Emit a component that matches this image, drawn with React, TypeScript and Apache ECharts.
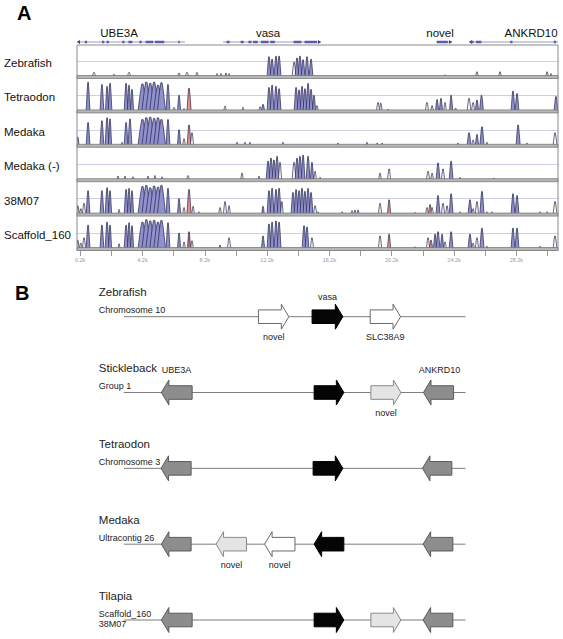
import React, { useEffect, useRef } from "react";
import * as echarts from "echarts";

// ---------- Panel A data ----------
const TRACK_NAMES = ["Zebrafish", "Tetraodon", "Medaka", "Medaka (-)", "38M07", "Scaffold_160"];
// peaks: [centre (kb), half width (kb), conservation (%), kind]  kind: 0 non-coding outline, 1 exon, 2 UTR, 3 teal, 4 dull UTR
const ZEBRAFISH = [
  [1.09, .1, 56, 0], [2.37, .06, 53, 0], [3.34, .1, 56, 0], [6.55, .08, 55, 0], [7.06, .1, 56, 0], [7.7, .08, 56, 0],
  [8.99, .06, 54, 0], [9.24, .06, 54, 0], [9.56, .06, 55, 0], [9.76, .06, 54, 0],
  [12.32, .12, 82, 1], [12.52, .12, 78, 1], [12.77, .12, 83, 1], [12.97, .12, 83, 1],
  [13.93, .12, 73, 0], [14.12, .12, 80, 1], [14.31, .12, 83, 1], [14.51, .12, 77, 1], [14.76, .12, 82, 1], [15.02, .12, 78, 1],
  [23.62, .05, 52, 0], [25.67, .08, 57, 0], [27.15, .08, 57, 0], [30.17, .08, 57, 0], [30.42, .06, 54, 0],
];
const TETRAODON = [
  [0.71, .12, 97, 1], [1.6, .12, 93, 1], [1.93, .1, 90, 1], [2.12, .12, 95, 1], [3.15, .12, 95, 1], [3.34, .1, 92, 1], [3.53, .1, 85, 1],
  [4.2, .28, 94, 1], [4.45, .28, 97, 1], [4.7, .28, 95, 1], [4.95, .28, 97, 1], [5.2, .28, 92, 1], [5.42, .26, 96, 1],
  [5.84, .12, 93, 1], [6.23, .08, 55, 0], [6.55, .1, 75, 1], [6.87, .06, 53, 0], [7.19, .13, 87, 2],
  [9.5, .08, 57, 0], [10.65, .06, 55, 0], [11.75, .08, 56, 0], [11.94, .1, 60, 1],
  [12.32, .12, 88, 1], [12.52, .12, 92, 1], [12.77, .12, 90, 1], [12.97, .12, 86, 1],
  [14.06, .12, 88, 1], [14.25, .12, 84, 1], [14.44, .12, 90, 1], [14.63, .12, 86, 1], [14.83, .12, 95, 1], [15.02, .12, 85, 1], [15.21, .1, 75, 1], [15.4, .08, 58, 0],
  [19.32, .1, 63, 0], [19.5, .08, 62, 0], [19.96, .05, 52, 0],
  [22.46, .1, 63, 0], [22.79, .08, 58, 0], [23.11, .1, 68, 1], [23.36, .1, 70, 1], [23.62, .08, 63, 0], [24.01, .1, 75, 1], [24.3, .06, 54, 0],
  [25.16, .12, 70, 0], [25.42, .1, 63, 0], [25.67, .1, 67, 1], [25.96, .12, 75, 1],
  [27.98, .12, 82, 1], [28.24, .12, 78, 1], [30.74, .12, 73, 1],
];
const MEDAKA = [
  [0.05, .08, 63, 3], [0.71, .12, 87, 1], [1.6, .12, 90, 1], [1.93, .12, 95, 1], [2.12, .1, 93, 1], [2.89, .06, 54, 0], [3.15, .12, 87, 1], [3.4, .12, 93, 1],
  [4.2, .28, 92, 1], [4.45, .28, 95, 1], [4.7, .28, 96, 1], [4.95, .28, 94, 1], [5.2, .28, 95, 1], [5.42, .26, 92, 1],
  [5.84, .12, 92, 1], [6.55, .1, 75, 1], [6.87, .08, 60, 0], [7.19, .12, 83, 2], [7.38, .1, 70, 0],
  [10.27, .06, 54, 0], [10.78, .06, 54, 0], [11.1, .06, 54, 0], [13.22, .06, 54, 0],
  [16.75, .06, 53, 0], [18.61, .06, 54, 0], [19.26, .06, 53, 0], [19.58, .06, 53, 0], [24.45, .06, 53, 0],
  [25.16, .12, 70, 1], [25.42, .08, 58, 0], [25.67, .1, 67, 1], [25.99, .13, 80, 1], [26.31, .06, 54, 0],
  [28.31, .13, 83, 1], [28.88, .06, 53, 0], [30.68, .12, 70, 0],
];
const MEDAKA_REV = [
  [2.63, .06, 55, 0], [3.08, .06, 55, 0], [3.59, .06, 54, 0], [4.56, .06, 55, 0], [5.0, .06, 56, 0], [5.46, .06, 54, 0], [7.12, .08, 56, 0],
  [10.59, .08, 60, 0], [11.68, .06, 55, 0],
  [12.26, .12, 80, 1], [12.45, .12, 85, 1], [12.64, .12, 82, 1], [12.84, .12, 88, 1], [13.03, .1, 78, 0],
  [13.93, .12, 78, 0], [14.12, .12, 85, 1], [14.31, .12, 88, 1], [14.51, .12, 90, 1], [14.83, .12, 88, 1], [15.08, .1, 78, 1], [15.28, .08, 63, 0], [15.6, .05, 53, 0],
  [19.45, .08, 60, 0], [20.03, .1, 67, 0], [22.53, .1, 63, 0], [22.79, .08, 60, 0], [23.17, .12, 77, 1], [23.49, .1, 67, 0], [24.01, .12, 80, 1],
  [24.58, .05, 53, 0], [26.76, .05, 52, 0],
];
const M38M07 = [
  [0.05, .1, 63, 3], [0.25, .08, 58, 0], [0.45, .1, 67, 0], [0.71, .12, 88, 1], [1.6, .12, 88, 1], [1.93, .12, 93, 1], [2.12, .1, 88, 1], [2.7, .06, 57, 0],
  [3.15, .12, 90, 1], [3.34, .1, 92, 1], [3.53, .1, 88, 1],
  [4.2, .28, 95, 1], [4.45, .28, 97, 1], [4.7, .28, 93, 1], [4.95, .28, 96, 1], [5.2, .28, 94, 1], [5.42, .26, 97, 1],
  [5.84, .12, 92, 1], [6.55, .1, 75, 1], [6.87, .08, 60, 0], [7.19, .13, 90, 2], [7.45, .08, 62, 0],
  [7.83, .05, 53, 0], [9.18, .08, 60, 0], [9.5, .1, 70, 0], [9.76, .08, 63, 0], [11.94, .08, 62, 1],
  [12.32, .12, 88, 1], [12.52, .12, 92, 1], [12.77, .12, 90, 1], [12.97, .12, 92, 1], [13.15, .08, 70, 0],
  [13.86, .12, 85, 1], [14.06, .12, 90, 1], [14.25, .12, 88, 1], [14.44, .12, 92, 1], [14.63, .12, 87, 1], [14.83, .12, 92, 1], [15.02, .12, 85, 1], [15.28, .1, 63, 0], [15.47, .05, 53, 0],
  [17.01, .05, 53, 0], [17.65, .06, 55, 0], [17.84, .06, 56, 0], [18.04, .06, 56, 0], [19.45, .1, 67, 0], [20.03, .1, 73, 2], [21.69, .05, 52, 0],
  [22.46, .08, 60, 0], [22.66, .1, 65, 2], [22.79, .08, 60, 0], [23.17, .12, 80, 1], [23.49, .1, 67, 0], [23.75, .08, 63, 0], [24.01, .12, 83, 1], [24.58, .05, 53, 0],
  [25.22, .12, 73, 1], [25.42, .08, 58, 0], [25.67, .1, 70, 0], [25.99, .13, 87, 1], [26.31, .05, 53, 0], [26.64, .05, 53, 0],
  [27.98, .12, 83, 1], [28.24, .12, 80, 1], [29.72, .05, 53, 0], [30.17, .05, 53, 0], [30.68, .12, 70, 0],
];
const SCAFFOLD_160 = [
  [0.05, .1, 63, 3], [0.25, .08, 58, 0], [0.45, .1, 67, 0], [0.71, .12, 88, 1], [1.6, .12, 88, 1], [1.93, .12, 93, 1], [2.12, .1, 88, 1], [2.7, .06, 57, 0],
  [3.15, .12, 88, 1], [3.34, .1, 92, 1], [3.53, .1, 87, 1],
  [4.2, .28, 93, 1], [4.45, .28, 97, 1], [4.7, .28, 95, 1], [4.95, .28, 96, 1], [5.2, .28, 93, 1], [5.42, .26, 96, 1],
  [5.84, .12, 92, 1], [6.55, .1, 75, 1], [6.87, .08, 60, 0], [7.19, .1, 77, 4], [7.38, .08, 62, 0],
  [9.18, .05, 55, 0], [9.76, .1, 67, 0], [11.94, .1, 70, 1],
  [12.32, .12, 90, 1], [12.52, .12, 93, 1], [12.77, .12, 95, 1], [12.97, .12, 93, 1],
  [14.57, .12, 87, 1], [14.76, .12, 85, 1], [15.08, .1, 67, 0],
  [19.45, .1, 70, 0], [20.03, .1, 73, 2], [21.69, .05, 52, 0],
  [22.53, .1, 67, 0], [22.72, .1, 63, 2], [22.98, .1, 73, 1], [23.17, .12, 77, 1], [23.43, .1, 73, 1], [23.62, .08, 60, 0], [24.01, .12, 77, 1],
  [25.22, .12, 73, 1], [25.42, .08, 58, 0], [25.67, .1, 67, 0], [25.99, .13, 83, 1], [26.31, .05, 53, 0],
  [27.98, .12, 83, 1], [28.24, .12, 83, 1], [29.72, .05, 53, 0], [30.68, .12, 70, 0],
];
const TRACKS = [ZEBRAFISH, TETRAODON, MEDAKA, MEDAKA_REV, M38M07, SCAFFOLD_160];

const TICK_LABELS = [0.2, 4.2, 8.2, 12.2, 16.2, 20.2, 24.2, 28.2];
const TICK_MARKS = [0.2, 2.2, 4.2, 6.2, 8.2, 10.2, 12.2, 14.2, 16.2, 18.2, 20.2, 22.2, 24.2, 26.2, 28.2, 30.2];

// annotated genes above the tracks: [start kb, end kb, strand, label position kb]
const GENE_NAMES_A = ["UBE3A", "vasa", "novel", "ANKRD10"];
const GENES_A = [[0.0, 6.93, -1, 2.7], [9.37, 15.66, 1, 12.26], [23.04, 24.07, 1, 23.3], [25.16, 30.87, -1, 29.14]];
const EXONS_A = [
  [0.5, 0.65], [1.6, 1.75], [1.9, 2.05], [2.9, 3.05], [3.3, 3.55], [4.0, 4.15], [4.4, 4.9], [5.0, 5.6], [6.5, 6.6],
  [9.6, 9.8], [10.5, 10.7], [11.0, 11.2], [11.3, 11.6], [11.8, 12.3], [12.4, 12.7], [13.9, 14.4], [14.6, 15.4],
  [23.1, 23.8], [25.3, 25.45], [25.6, 25.95], [27.8, 27.95], [30.6, 30.75],
];

// ---------- Panel B data ----------
const SPECIES_B = ["Zebrafish", "Stickleback", "Tetraodon", "Medaka", "Tilapia"];
const LOCI_B = [["Chromosome 10"], ["Group 1"], ["Chromosome 3"], ["Ultracontig 26"], ["Scaffold_160", "38M07"]];
// arrows: [row, start, end, strand, fill] fill: 0 white, 1 light grey, 2 grey, 3 black
const ARROWS_B = [
  [0, 39.4, 48.3, 1, 0], [0, 55.1, 64.1, 1, 3], [0, 72.1, 81.0, 1, 0],
  [1, 11.0, 20.0, -1, 2], [1, 55.7, 64.4, 1, 3], [1, 72.3, 81.1, 1, 1], [1, 87.7, 96.5, -1, 2],
  [2, 10.9, 19.7, -1, 2], [2, 55.4, 64.1, 1, 3], [2, 87.4, 96.0, -1, 2],
  [3, 11.0, 19.7, -1, 2], [3, 27.0, 35.9, -1, 1], [3, 41.2, 50.1, -1, 0], [3, 55.7, 64.4, -1, 3], [3, 87.6, 96.3, -1, 2],
  [4, 11.0, 20.0, -1, 2], [4, 55.7, 64.4, 1, 3], [4, 72.3, 81.1, 1, 1], [4, 87.6, 96.3, -1, 2],
];
// gene labels: [row, position, place] place: 1 above arrow, 2 above at species-label height, -1 below
const GENE_LABEL_TEXT_B = ["vasa", "novel", "SLC38A9", "UBE3A", "ANKRD10", "novel", "novel", "novel"];
const GENE_LABELS_B = [[0, 59.6, 1], [0, 43.9, -1], [0, 76.5, -1], [1, 15.4, 2], [1, 92.4, 2], [1, 76.7, -1], [3, 31.5, -1], [3, 45.6, -1]];

const FONT = "'Liberation Sans', Arial, sans-serif";
const X_MAX = 30.87;
const TRACK_TOP = 46, TRACK_STEP = 34.4, TRACK_H = 30, PLOT_L = 77, PLOT_W = 481;

const PEAK_FILL = ["#ffffff", "#9090cf", "#ec8f8f", "#a5d3cb", "#c27575"];
const ARROW_FILL = ["#ffffff", "#e4e4e4", "#8d8d8d", "#050505"];
const ARROW_STROKE = ["#6a6a6a", "#8a8a8a", "#5a5a5a", "#000000"];

export default function App() {
  const ref = useRef<HTMLDivElement>(null);
  useEffect(() => {
    const chart = echarts.init(ref.current!, null, { renderer: "svg" });
    const grids: any[] = [];
    const xAxes: any[] = [];
    const yAxes: any[] = [];
    const series: any[] = [];
    const graphic: any[] = [];

    TRACKS.forEach((peaks, i) => {
      const top = TRACK_TOP + i * TRACK_STEP;
      grids.push({ left: PLOT_L, width: PLOT_W, top, height: TRACK_H });
      const last = i === TRACKS.length - 1;
      xAxes.push({
        gridIndex: i, type: "value", min: 0, max: X_MAX, show: last,
        axisLine: { show: false }, splitLine: { show: false },
        axisTick: { show: true, customValues: TICK_MARKS, length: 8, lineStyle: { color: "#9a9a9a" } },
        axisLabel: { customValues: TICK_LABELS, formatter: (v: number) => v.toFixed(1) + "k", fontSize: 5.5, color: "#999", margin: 9, fontFamily: FONT },
      });
      yAxes.push({
        gridIndex: i, type: "value", min: 50, max: 100, interval: 25,
        axisLine: { show: false }, axisTick: { show: false }, axisLabel: { show: false },
        splitLine: { show: true, lineStyle: { color: ["rgba(0,0,0,0)", "#cfcfea", "rgba(0,0,0,0)"], width: 1 } },
      });
      series.push({
        type: "custom", xAxisIndex: i, yAxisIndex: i, data: peaks, clip: true, silent: true,
        renderItem: (params: any, api: any) => {
          const d = peaks[params.dataIndex];
          const c = d[0], hw = d[1], h = d[2], k = d[3];
          const pts = [
            api.coord([c - hw, 50]), api.coord([c - hw * 0.45, 50 + (h - 50) * 0.72]), api.coord([c - hw * 0.15, h]),
            api.coord([c + hw * 0.15, h]), api.coord([c + hw * 0.45, 50 + (h - 50) * 0.72]), api.coord([c + hw, 50]),
          ];
          return { type: "polygon", shape: { points: pts }, style: { fill: PEAK_FILL[k], stroke: "#25254a", lineWidth: 0.7 } };
        },
      });
      graphic.push({ type: "rect", shape: { x: PLOT_L, y: top + TRACK_H - 0.5, width: PLOT_W, height: 3 }, style: { fill: "#b6b6b6", stroke: "#7c7c7c", lineWidth: 0.8 }, z: 10 });
      graphic.push({ type: "text", x: 4, y: top + TRACK_H - 13, style: { text: TRACK_NAMES[i], fill: "#111", fontSize: 11.5, fontFamily: FONT, verticalAlign: "middle" } });
    });
    const lastBottom = TRACK_TOP + (TRACKS.length - 1) * TRACK_STEP + TRACK_H;
    graphic.push({ type: "rect", shape: { x: PLOT_L, y: 45, width: PLOT_W, height: lastBottom + 2.5 - 45 }, style: { fill: "none", stroke: "#8a8a8a", lineWidth: 1 }, z: 11 });
    graphic.push({ type: "text", x: 17, y: 3, style: { text: "A", fill: "#000", fontSize: 20, fontWeight: "bold", fontFamily: FONT } });
    graphic.push({ type: "text", x: 15, y: 283, style: { text: "B", fill: "#000", fontSize: 20, fontWeight: "bold", fontFamily: FONT } });

    // annotation grid (index 6)
    grids.push({ left: PLOT_L, width: PLOT_W, top: 37, height: 10 });
    xAxes.push({ gridIndex: 6, type: "value", min: 0, max: X_MAX, show: false });
    yAxes.push({ gridIndex: 6, type: "value", min: -1, max: 1, show: false });
    series.push({
      type: "custom", xAxisIndex: 6, yAxisIndex: 6, data: GENES_A, silent: true,
      renderItem: (params: any, api: any) => {
        const g = GENES_A[params.dataIndex];
        const a = api.coord([g[0], 0]), b = api.coord([g[1], 0]), l = api.coord([g[3], 0]);
        const tip = g[2] > 0 ? b : a;
        const dx = g[2] > 0 ? -3 : 3;
        return {
          type: "group", children: [
            { type: "line", shape: { x1: a[0], y1: a[1], x2: b[0], y2: b[1] }, style: { stroke: "#9a9abb", lineWidth: 1 } },
            { type: "polygon", shape: { points: [[tip[0], tip[1]], [tip[0] + dx, tip[1] - 2], [tip[0] + dx, tip[1] + 2]] }, style: { fill: "#3d3d8a" } },
            { type: "text", x: l[0], y: l[1] - 9.5, style: { text: GENE_NAMES_A[params.dataIndex], fill: "#111", fontSize: 11.5, fontFamily: FONT, align: "center", verticalAlign: "middle" } },
          ],
        };
      },
    });
    series.push({
      type: "custom", xAxisIndex: 6, yAxisIndex: 6, data: EXONS_A, silent: true,
      renderItem: (params: any, api: any) => {
        const e = EXONS_A[params.dataIndex];
        const a = api.coord([e[0], 0]), b = api.coord([e[1], 0]);
        return { type: "rect", shape: { x: a[0], y: a[1] - 1.25, width: Math.max(1.5, b[0] - a[0]), height: 2.5 }, style: { fill: "#5b5bab" } };
      },
    });

    // panel B grid (index 7)
    grids.push({ left: 123.8, width: 341.7, top: 316.7, height: 303.3 });
    xAxes.push({ gridIndex: 7, type: "value", min: 0, max: 100, show: false });
    yAxes.push({ gridIndex: 7, type: "value", min: 0, max: 4, inverse: true, show: false });
    const rows = SPECIES_B.map((_, i) => [0, i]);
    series.push({
      type: "custom", xAxisIndex: 7, yAxisIndex: 7, data: rows, silent: true, clip: false,
      renderItem: (params: any, api: any) => {
        const r = params.dataIndex;
        const a = api.coord([0, r]), b = api.coord([100, r]);
        const children: any[] = [
          { type: "line", shape: { x1: a[0], y1: a[1], x2: b[0], y2: b[1] }, style: { stroke: "#7d7d7d", lineWidth: 1 } },
          { type: "text", x: a[0] - 25, y: a[1] - 24.5, style: { text: SPECIES_B[r], fill: "#222", fontSize: 11.5, fontFamily: FONT, verticalAlign: "middle" } },
        ];
        LOCI_B[r].forEach((t, j) => children.push({ type: "text", x: a[0] - 25, y: a[1] - 6.5 + j * 10.5, style: { text: t, fill: "#222", fontSize: 9, fontFamily: FONT, verticalAlign: "middle" } }));
        return { type: "group", children };
      },
    });
    series.push({
      type: "custom", xAxisIndex: 7, yAxisIndex: 7, data: ARROWS_B, silent: true, clip: false,
      renderItem: (params: any, api: any) => {
        const g = ARROWS_B[params.dataIndex];
        const a = api.coord([g[1], g[0]]), b = api.coord([g[2], g[0]]);
        const y = a[1], HH = 12.5, BH = 6.8, HL = 7.5;
        let pts;
        if (g[3] > 0) {
          const xh = b[0] - HL;
          pts = [[a[0], y - BH], [xh, y - BH], [xh, y - HH], [b[0], y], [xh, y + HH], [xh, y + BH], [a[0], y + BH]];
        } else {
          const xh = a[0] + HL;
          pts = [[b[0], y - BH], [xh, y - BH], [xh, y - HH], [a[0], y], [xh, y + HH], [xh, y + BH], [b[0], y + BH]];
        }
        return { type: "polygon", shape: { points: pts }, style: { fill: ARROW_FILL[g[4]], stroke: ARROW_STROKE[g[4]], lineWidth: 1 } };
      },
    });
    series.push({
      type: "custom", xAxisIndex: 7, yAxisIndex: 7, data: GENE_LABELS_B, silent: true, clip: false,
      renderItem: (params: any, api: any) => {
        const g = GENE_LABELS_B[params.dataIndex];
        const p = api.coord([g[1], g[0]]);
        const dy = g[2] === 1 ? -19.5 : g[2] === 2 ? -22.5 : 20.5;
        return { type: "text", x: p[0], y: p[1] + dy, style: { text: GENE_LABEL_TEXT_B[params.dataIndex], fill: "#222", fontSize: 9, fontFamily: FONT, align: "center", verticalAlign: "middle" } };
      },
    });

    chart.setOption({
      animation: false,
      backgroundColor: "#ffffff",
      grid: grids, xAxis: xAxes, yAxis: yAxes, series, graphic,
    });
    return () => chart.dispose();
  }, []);
  return <div ref={ref} style={{ position: "fixed", left: 0, top: 0, width: 563, height: 639, background: "#fff" }} />;
}
